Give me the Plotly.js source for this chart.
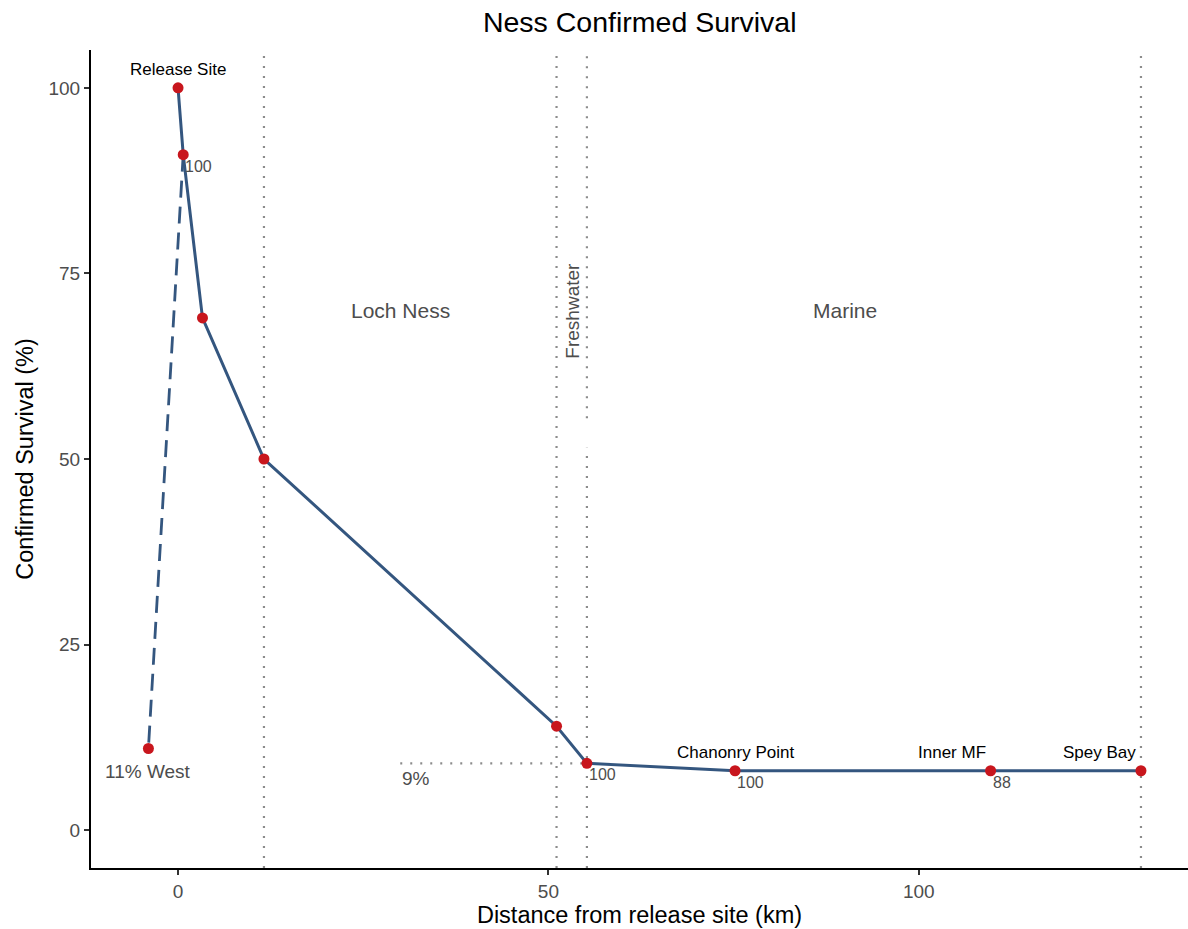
<!DOCTYPE html>
<html>
<head>
<meta charset="utf-8">
<script src="https://cdn.plot.ly/plotly-3.0.1.min.js"></script>
<style>html,body{margin:0;padding:0;background:#fff}#chart{width:1188px;height:929px}</style>
</head>
<body>
<div id="chart"></div>
<script>
// Main route: distance (km) and confirmed survival (%)
const mainDist = [0, 0.7, 3.3, 11.6, 51.1, 55.2, 75.2, 109.7, 130];
const mainSurv = [100, 91, 69, 50, 14, 9, 8, 8, 8];
// West branch
const westDist = [0.7, -4];
const westSurv = [91, 11];
// Boundary lines (km)
const boundaries = [11.6, 51.1, 130];
const freshBoundary = 55.2;
// Station labels
const stationNames = ["Release Site", "Chanonry Point", "Inner MF", "Spey Bay"];
const stationDist = [0, 75.2, 109.7, 130];
const stationSurv = [100, 8, 8, 8];
const stationAnchor = ["center", "center", "right", "right"];
// Detection efficiency labels
const effLabels = ["100", "100", "100", "88"];
const effDist = [0.7, 55.2, 75.2, 109.7];
const effSurv = [91, 9, 8, 8];
// Region labels
const regionNames = ["Loch Ness", "Marine"];
const regionDist = [30, 90];
const regionY = 70;

const lineCol = "#34567f";
const ptCol = "#c8161d";
const grey = "#4d4d4d";
const dotCol = "#8c8c8c";
const dotDash = "2px,8px";

const traces = [
  {x: westDist, y: westSurv, mode: "lines", line: {color: lineCol, width: 2.8, dash: "17px,9px"}, hoverinfo: "skip"},
  {x: mainDist, y: mainSurv, mode: "lines", line: {color: lineCol, width: 3}, hoverinfo: "skip"},
  {x: mainDist.concat([westDist[1]]), y: mainSurv.concat([westSurv[1]]), mode: "markers",
   marker: {color: ptCol, size: 11}, hoverinfo: "skip"}
];

const shapes = [];
boundaries.forEach(b => shapes.push({type: "line", xref: "x", yref: "y", x0: b, x1: b, y0: -5.1, y1: 105.1,
  line: {color: dotCol, width: 2.2, dash: dotDash}, layer: "below"}));
shapes.push({type: "line", xref: "x", yref: "y", x0: freshBoundary, x1: freshBoundary, y0: 55.5, y1: 105.1,
  line: {color: dotCol, width: 2.2, dash: dotDash}, layer: "below"});
shapes.push({type: "line", xref: "x", yref: "y", x0: freshBoundary, x1: freshBoundary, y0: -5.1, y1: 51.5,
  line: {color: dotCol, width: 2.2, dash: dotDash}, layer: "below"});
shapes.push({type: "line", xref: "x", yref: "y", x0: 30, x1: freshBoundary, y0: 9, y1: 9,
  line: {color: dotCol, width: 2.2, dash: dotDash}, layer: "below"});

const font = "Liberation Sans, Arial, sans-serif";
const ann = [];
stationNames.forEach((n, i) => ann.push({x: stationDist[i], y: stationSurv[i], text: n, showarrow: false,
  xanchor: stationAnchor[i], yanchor: "bottom", yshift: 7, xshift: stationAnchor[i] === "right" ? -3 : 0,
  font: {family: font, size: 17, color: "#000"}}));
effLabels.forEach((t, i) => ann.push({x: effDist[i], y: effSurv[i], text: t, showarrow: false,
  xanchor: "left", yanchor: "top", xshift: 0, yshift: -1, font: {family: font, size: 16, color: grey}}));
regionNames.forEach((n, i) => ann.push({x: regionDist[i], y: regionY, text: n, showarrow: false,
  font: {family: font, size: 21, color: grey}}));
ann.push({x: 53.2, y: regionY, text: "Freshwater", textangle: -90, showarrow: false,
  font: {family: font, size: 19, color: grey}});
ann.push({x: westDist[1], y: westSurv[1], text: "11% West", showarrow: false, yanchor: "top", yshift: -11,
  font: {family: font, size: 19, color: grey}});
ann.push({x: 30, y: 9, text: "9%", showarrow: false, xanchor: "left", yanchor: "top", yshift: -3,
  font: {family: font, size: 19, color: grey}});

const layout = {
  width: 1188, height: 929,
  margin: {l: 91, r: 0, t: 50, b: 61},
  paper_bgcolor: "#fff", plot_bgcolor: "#fff",
  showlegend: false,
  title: {text: "Ness Confirmed Survival", x: 0.5385, xanchor: "center", y: 0.976, yanchor: "middle",
    font: {family: font, size: 28.5, color: "#000"}},
  xaxis: {range: [-11.75, 136.35], tickvals: [0, 50, 100], ticktext: ["0", "50", "100"],
    showgrid: false, zeroline: false, showline: true, linecolor: "#000", linewidth: 2,
    ticks: "outside", ticklen: 5, tickwidth: 2, tickcolor: "#333",
    tickfont: {family: font, size: 19, color: grey},
    title: {text: "Distance from release site (km)", font: {family: font, size: 23.5, color: "#000"}, standoff: 4}},
  yaxis: {range: [-5.1, 105.1], tickvals: [0, 25, 50, 75, 100],
    showgrid: false, zeroline: false, showline: true, linecolor: "#000", linewidth: 2,
    ticks: "outside", ticklen: 5, tickwidth: 2, tickcolor: "#333",
    tickfont: {family: font, size: 19, color: grey},
    title: {text: "Confirmed Survival (%)", font: {family: font, size: 23.5, color: "#000"}, standoff: 8}},
  shapes: shapes,
  annotations: ann
};

Plotly.newPlot("chart", traces, layout, {displayModeBar: false, staticPlot: true});
</script>
</body>
</html>
